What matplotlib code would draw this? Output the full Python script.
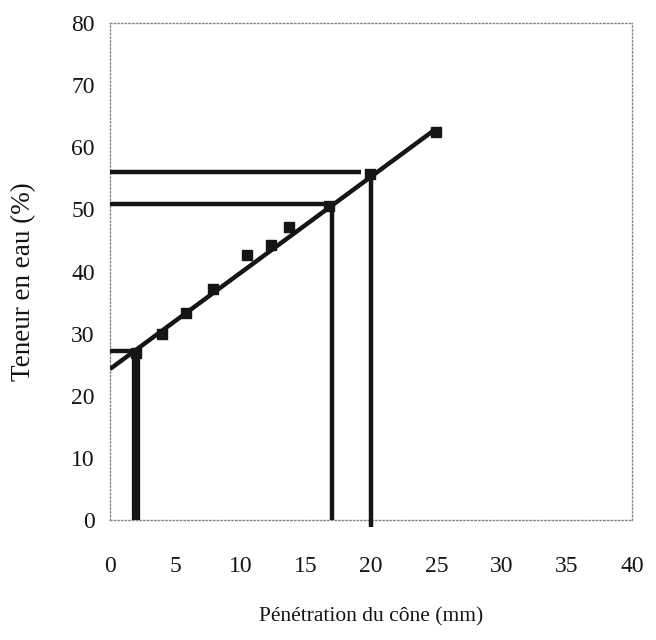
import matplotlib.pyplot as plt

# mesures : pénétration du cône (mm) / teneur en eau (%)
penetration = [2, 4, 5.8, 7.9, 10.5, 12.3, 13.7, 16.8, 19.9, 25]
teneur = [26.9, 29.9, 33.4, 37.2, 42.7, 44.2, 47.1, 50.5, 55.7, 62.5]

# droite d'ajustement
fit_x = [0, 25]
fit_y = [24.3, 63]

# lectures sur la droite (x, y)
lect_x = [2, 17, 20]
lect_y = [27.2, 50.9, 56.0]
lect_h_end = [2, 16.9, 19.2]
lect_v_bottom = [0, 0, -1.2]
lect_lw = [6, 3.2, 3.2]

plt.rcParams['font.family'] = ['Liberation Serif', 'DejaVu Serif']

fig = plt.figure(figsize=(6.56, 6.4), dpi=100)
ax = fig.add_axes([110 / 656, 120 / 640, 522 / 656, 497 / 640])

ink = '#151515'

ax.plot(fit_x, fit_y, color=ink, lw=3.2, solid_capstyle='butt', zorder=3)
ax.plot(penetration, teneur, 's', color=ink, ms=7.5, zorder=4)

for i in range(len(lect_x)):
    ax.plot([lect_x[i], lect_x[i]], [lect_v_bottom[i], lect_y[i]], color=ink,
            lw=lect_lw[i], solid_capstyle='butt', clip_on=False, zorder=3)
    ax.plot([0, lect_h_end[i]], [lect_y[i], lect_y[i]], color=ink,
            lw=3.2, solid_capstyle='butt', zorder=3)

ax.set_xlim(0, 40)
ax.set_ylim(0, 80)
ax.set_xticks(range(0, 41, 5))
ax.set_yticks(range(0, 81, 10))

for s in ax.spines.values():
    s.set_linestyle(':')
    s.set_color('#888888')
    s.set_linewidth(1)

ax.tick_params(length=0, labelsize=17, colors=ink)
ax.tick_params(axis='x', pad=26)
ax.tick_params(axis='y', pad=11)

ax.set_xlabel('Pénétration du cône (mm)', fontsize=15.5, color=ink)
ax.set_ylabel('Teneur en eau (%)', fontsize=19.5, color=ink)
ax.xaxis.set_label_coords(0.5, -0.175)
ax.yaxis.set_label_coords(-0.142, 0.479)

fig.savefig('out.png', dpi=100)
